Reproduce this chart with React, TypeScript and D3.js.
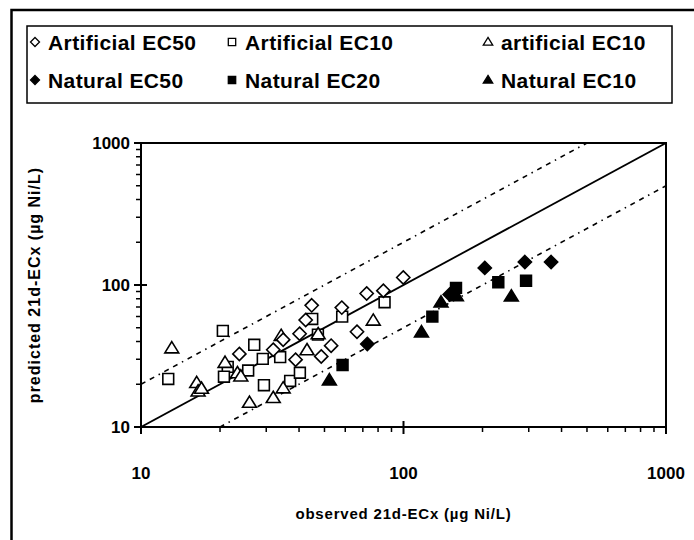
import React from "react";
import * as d3 from "d3";

// Observed vs predicted 21-day ECx values (µg Ni/L)
const artEC50Obs = [99.8, 83.8, 72.4, 58.2, 44.7, 42.4, 40.2, 66.5, 34.8, 31.9, 23.7, 53.0, 48.6, 38.8];
const artEC50Pred = [113, 91.2, 87.1, 69.3, 71.9, 56.7, 45.4, 46.9, 41.2, 35.0, 32.7, 37.4, 31.4, 29.8];

const artEC10aObs = [84.7, 58.4, 44.9, 47.2, 27.0, 20.5, 12.7, 33.9, 29.1, 25.6, 21.4, 20.7, 29.4, 37.0, 40.3];
const artEC10aPred = [75.6, 59.9, 57.7, 44.7, 37.9, 47.5, 21.8, 31.1, 30.2, 25.0, 26.5, 22.6, 19.7, 21.1, 24.1];

const artEC10bObs = [13.1, 34.2, 20.9, 16.3, 16.5, 17.0, 23.3, 24.0, 42.9, 76.7, 47.3, 25.9, 31.9, 34.8];
const artEC10bPred = [35.8, 43.8, 28.3, 20.4, 17.8, 18.6, 23.9, 22.7, 34.7, 56.1, 45.0, 14.8, 16.0, 18.7];

const natEC50Obs = [72.8, 150, 204, 290, 365];
const natEC50Pred = [38.4, 85.7, 132, 145, 145];

const natEC20Obs = [58.6, 128.8, 158.5, 229.7, 293];
const natEC20Pred = [27.3, 59.9, 95.5, 104.7, 107];

const natEC10Obs = [52.2, 117.1, 139, 159, 257.5];
const natEC10Pred = [21.3, 46.4, 75.2, 83.4, 83];

const axisTicks = [10, 100, 1000];
const legendRow1 = ["Artificial EC50", "Artificial EC10", "artificial EC10"];
const legendRow2 = ["Natural EC50", "Natural EC20", "Natural EC10"];

type Shape = "diamond" | "square" | "triangle";

function markerPath(shape: Shape, r: number): string {
  if (shape === "diamond") {
    return `M0,${-r}L${r},0L0,${r}L${-r},0Z`;
  }
  if (shape === "square") {
    const s = r * 0.82;
    return `M${-s},${-s}L${s},${-s}L${s},${s}L${-s},${s}Z`;
  }
  const h = r * 1.7;
  return `M0,${-h * 0.6}L${r * 1.05},${h * 0.4}L${-r * 1.05},${h * 0.4}Z`;
}

const font = "'Liberation Sans', Arial, sans-serif";

export default function App() {
  const W = 694;
  const H = 540;
  const x = d3.scaleLog().domain([10, 1000]).range([141, 666]);
  const y = d3.scaleLog().domain([10, 1000]).range([427, 143]);

  const series: { obs: number[]; pred: number[]; shape: Shape; filled: boolean }[] = [
    { obs: artEC10aObs, pred: artEC10aPred, shape: "square", filled: false },
    { obs: artEC10bObs, pred: artEC10bPred, shape: "triangle", filled: false },
    { obs: artEC50Obs, pred: artEC50Pred, shape: "diamond", filled: false },
    { obs: natEC50Obs, pred: natEC50Pred, shape: "diamond", filled: true },
    { obs: natEC20Obs, pred: natEC20Pred, shape: "square", filled: true },
    { obs: natEC10Obs, pred: natEC10Pred, shape: "triangle", filled: true },
  ];

  // minor ticks 2..9 for each decade
  const minor: number[] = [];
  for (const base of [10, 100]) for (let k = 2; k <= 9; k++) minor.push(base * k);

  const [x0, x1] = x.range();
  const [y0, y1] = y.range();

  // 1:1 line and factor-of-two lines, clipped to the plot
  const lines = [
    { f: 1, dash: undefined },
    { f: 2, dash: "5,5,5,5,1.5,5" },
    { f: 0.5, dash: "5,5,5,5,1.5,5" },
  ];

  const legendCols = [35, 232, 488];
  const legendRows = [42, 80];
  const legendShapes: Shape[] = ["diamond", "square", "triangle"];

  return (
    <svg width={W} height={H} style={{ position: "absolute", left: 0, top: 0, background: "#fff" }}>
      <rect x={0} y={0} width={W} height={H} fill="#fff" />
      {/* outer chart frame */}
      <path d={`M11.5,${H + 5}L11.5,10L${W + 5},10`} fill="none" stroke="#000" strokeWidth={2.5} />

      {/* legend */}
      <rect x={27} y={26} width={645} height={77} fill="#fff" stroke="#000" strokeWidth={1.5} />
      {[legendRow1, legendRow2].map((row, ri) =>
        row.map((label, ci) => (
          <g key={`${ri}-${ci}`}>
            <path
              d={markerPath(legendShapes[ci], 4.5)}
              transform={`translate(${legendCols[ci]},${legendRows[ri]})`}
              fill={ri === 1 ? "#000" : "#fff"}
              stroke="#000"
              strokeWidth={1.3}
            />
            <text
              x={legendCols[ci] + 13}
              y={legendRows[ri]}
              dy="0.36em"
              fontFamily={font}
              fontWeight="bold"
              fontSize={21}
              letterSpacing={0.4}
            >
              {label}
            </text>
          </g>
        ))
      )}

      <defs>
        <clipPath id="plot-clip">
          <rect x={x0} y={y1} width={x1 - x0} height={y0 - y1} />
        </clipPath>
      </defs>

      {/* reference lines */}
      <g clipPath="url(#plot-clip)">
        {lines.map((l, i) => (
          <line
            key={i}
            x1={x(10)}
            y1={y(10 * l.f)}
            x2={x(1000)}
            y2={y(1000 * l.f)}
            stroke="#000"
            strokeWidth={l.dash ? 1.6 : 1.8}
            strokeDasharray={l.dash}
          />
        ))}
      </g>

      {/* data points */}
      {series.map((s, si) =>
        s.obs.map((o, i) => (
          <path
            key={`${si}-${i}`}
            d={markerPath(s.shape, 6.6)}
            transform={`translate(${x(o)},${y(s.pred[i])})`}
            fill={s.filled ? "#000" : "#fff"}
            stroke="#000"
            strokeWidth={1.6}
          />
        ))
      )}

      {/* plot frame */}
      <rect x={x0} y={y1} width={x1 - x0} height={y0 - y1} fill="none" stroke="#000" strokeWidth={2} />

      {/* y axis ticks */}
      {axisTicks.map((t) => (
        <line key={`ym${t}`} x1={x0 - 7} x2={x0 + 6} y1={y(t)} y2={y(t)} stroke="#000" strokeWidth={2} />
      ))}
      {minor.map((t) => (
        <line key={`yn${t}`} x1={x0 - 5} x2={x0} y1={y(t)} y2={y(t)} stroke="#000" strokeWidth={1.5} />
      ))}
      {/* x axis ticks */}
      {axisTicks.map((t) => (
        <line key={`xm${t}`} x1={x(t)} x2={x(t)} y1={y0 - 6} y2={y0 + 7} stroke="#000" strokeWidth={2} />
      ))}
      {minor.map((t) => (
        <line key={`xn${t}`} x1={x(t)} x2={x(t)} y1={y0} y2={y0 + 5} stroke="#000" strokeWidth={1.5} />
      ))}

      {/* tick labels */}
      {axisTicks.map((t) => (
        <text
          key={`yl${t}`}
          x={x0 - 11}
          y={y(t)}
          dy="0.36em"
          textAnchor="end"
          fontFamily={font}
          fontWeight="bold"
          fontSize={17}
        >
          {t}
        </text>
      ))}
      {axisTicks.map((t) => (
        <text
          key={`xl${t}`}
          x={x(t)}
          y={y0 + 52}
          textAnchor="middle"
          fontFamily={font}
          fontWeight="bold"
          fontSize={17}
        >
          {t}
        </text>
      ))}

      {/* axis titles */}
      <text
        x={(x0 + x1) / 2}
        y={y0 + 92}
        textAnchor="middle"
        fontFamily={font}
        fontWeight="bold"
        fontSize={15}
        letterSpacing={0.8}
      >
        observed 21d-ECx (µg Ni/L)
      </text>
      <text
        transform={`translate(40,${(y0 + y1) / 2}) rotate(-90)`}
        textAnchor="middle"
        fontFamily={font}
        fontWeight="bold"
        fontSize={16}
        letterSpacing={1}
      >
        predicted 21d-ECx (µg Ni/L)
      </text>
    </svg>
  );
}
